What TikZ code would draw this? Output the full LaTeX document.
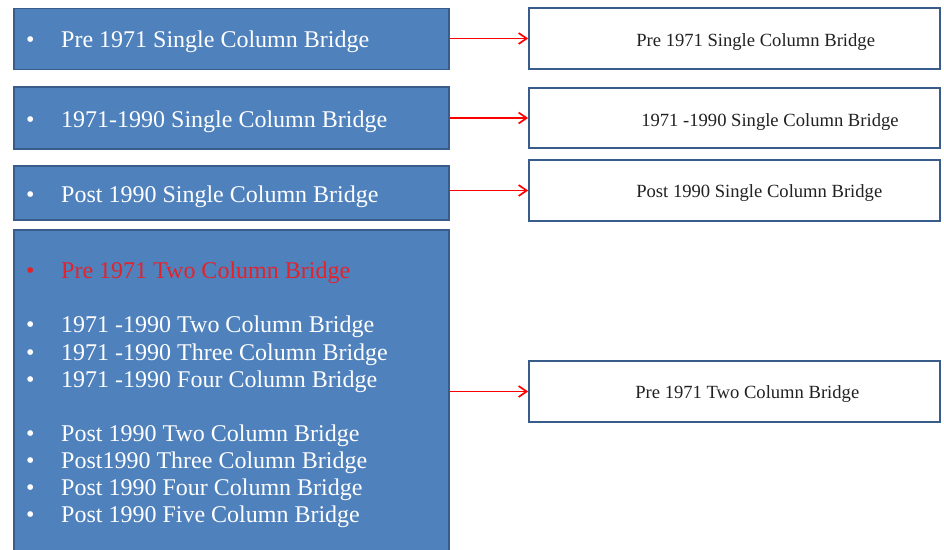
\documentclass[tikz,border=0pt]{standalone}
\usepackage{fontspec}
\setmainfont{Liberation Serif}
\usetikzlibrary{arrows.meta}

\definecolor{boxblue}{HTML}{4F81BD}
\definecolor{boxedge}{HTML}{385D8A}
\definecolor{itemred}{HTML}{E3232C}
\definecolor{labelgray}{HTML}{222222}

\newcommand{\bul}{\makebox[35pt][l]{\textbullet}}

\begin{document}
\begin{tikzpicture}[x=1pt, y=-1pt, >={Straight Barb[length=8pt, width=11pt]}]
    % 1. Styles
    \tikzset{
      srcbox/.style={draw=boxedge, fill=boxblue, line width=1.8pt, minimum width=435pt, inner sep=0pt},
      dstbox/.style={draw=boxedge, fill=white, line width=1.8pt, minimum width=411pt, minimum height=61pt, inner sep=0pt},
      item/.style={anchor=base west, inner sep=0pt, text=white, font=\fontsize{24}{27}\selectfont},
      dsttext/.style={anchor=base west, inner sep=0pt, text=labelgray, font=\fontsize{18.6}{22}\selectfont},
      arr/.style={->, red, line width=1.7pt}
    }
    \useasboundingbox (0,0) rectangle (944,549);

    % 2. Left column (blue boxes)
    \node[srcbox, minimum height=61pt] (src1) at (231.5,39) {};
    \node[srcbox, minimum height=62pt] (src2) at (231.5,118) {};
    \node[srcbox, minimum height=54pt] (src3) at (231.5,193) {};
    \node[srcbox, minimum height=340pt, anchor=north] (src4) at (231.5,229) {};

    \node[item] (item1) at (26,47) {\bul Pre 1971 Single Column Bridge};
    \node[item] (item2) at (26,127) {\bul 1971-1990 Single Column Bridge};
    \node[item] (item3) at (26,202) {\bul Post 1990 Single Column Bridge};

    % Bullet list of the big box
    \node[item, text=itemred] (list0) at (26,278) {\bul Pre 1971 Two Column Bridge};
    \foreach \y/\txt [count=\i] in {332/1971 -1990 Two Column Bridge,
                                    360/1971 -1990 Three Column Bridge,
                                    387/1971 -1990 Four Column Bridge,
                                    441/Post 1990 Two Column Bridge,
                                    468/Post1990 Three Column Bridge,
                                    495/Post 1990 Four Column Bridge,
                                    522/Post 1990 Five Column Bridge}
      \node[item] (list\i) at (26,\y) {\bul\txt};

    % 3. Right column (white boxes)
    \node[dstbox] (dst1) at (734.5,38.5) {};
    \node[dstbox, minimum height=60pt] (dst2) at (734.5,118) {};
    \node[dstbox] (dst3) at (734.5,190.5) {};
    \node[dstbox] (dst4) at (734.5,391.5) {};

    \node[dsttext] (lab1) at ([xshift=108pt, yshift=-7.5pt]dst1.west) {Pre 1971 Single Column Bridge};
    \node[dsttext] (lab2) at ([xshift=113pt, yshift=-8pt]dst2.west) {1971 -1990 Single Column Bridge};
    \node[dsttext] (lab3) at ([xshift=108pt, yshift=-6.5pt]dst3.west) {Post 1990 Single Column Bridge};
    \node[dsttext] (lab4) at ([xshift=107pt, yshift=-6.5pt]dst4.west) {Pre 1971 Two Column Bridge};

    % 4. Arrows
    \foreach \i in {1,...,4}
      \draw[arr] (dst\i.west -| src\i.east) -- (dst\i.west);

\end{tikzpicture}
\end{document}
